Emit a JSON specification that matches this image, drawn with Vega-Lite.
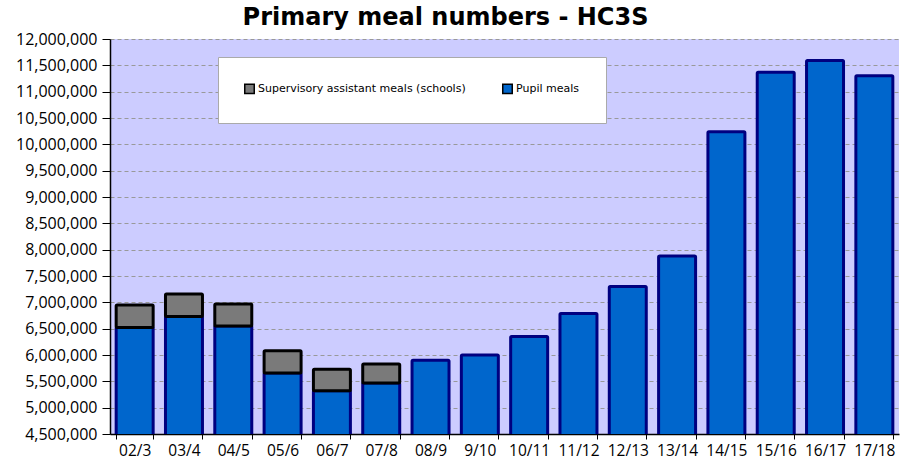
{
  "$schema": "https://vega.github.io/schema/vega-lite/v6.json",
  "width": 789,
  "height": 395,
  "autosize": {"type": "none"},
  "padding": {"left": 110, "top": 39, "right": 2, "bottom": 29},
  "background": "white",
  "title": {
    "text": "Primary meal numbers - HC3S",
    "font": "DejaVu Sans",
    "fontSize": 24,
    "fontWeight": "bold",
    "color": "#000000",
    "anchor": "middle",
    "dx": -59,
    "offset": 1
  },
  "config": {
    "view": {"fill": "#CCCCFF", "stroke": null},
    "axis": {"labelFont": "Open Sans", "labelColor": "#000000", "domainColor": "#000000", "tickColor": "#000000"}
  },
  "data": {
    "values": [
      {"year": "02/3", "series": "Pupil meals", "meals": 6520000},
      {"year": "02/3", "series": "Supervisory assistant meals (schools)", "meals": 430000},
      {"year": "03/4", "series": "Pupil meals", "meals": 6730000},
      {"year": "03/4", "series": "Supervisory assistant meals (schools)", "meals": 430000},
      {"year": "04/5", "series": "Pupil meals", "meals": 6550000},
      {"year": "04/5", "series": "Supervisory assistant meals (schools)", "meals": 420000},
      {"year": "05/6", "series": "Pupil meals", "meals": 5660000},
      {"year": "05/6", "series": "Supervisory assistant meals (schools)", "meals": 420000},
      {"year": "06/7", "series": "Pupil meals", "meals": 5320000},
      {"year": "06/7", "series": "Supervisory assistant meals (schools)", "meals": 410000},
      {"year": "07/8", "series": "Pupil meals", "meals": 5470000},
      {"year": "07/8", "series": "Supervisory assistant meals (schools)", "meals": 360000},
      {"year": "08/9", "series": "Pupil meals", "meals": 5900000},
      {"year": "9/10", "series": "Pupil meals", "meals": 6000000},
      {"year": "10/11", "series": "Pupil meals", "meals": 6350000},
      {"year": "11/12", "series": "Pupil meals", "meals": 6790000},
      {"year": "12/13", "series": "Pupil meals", "meals": 7300000},
      {"year": "13/14", "series": "Pupil meals", "meals": 7880000},
      {"year": "14/15", "series": "Pupil meals", "meals": 10240000},
      {"year": "15/16", "series": "Pupil meals", "meals": 11370000},
      {"year": "16/17", "series": "Pupil meals", "meals": 11590000},
      {"year": "17/18", "series": "Pupil meals", "meals": 11300000}
    ]
  },
  "transform": [
    {"stack": "meals", "groupby": ["year"], "sort": [{"field": "series", "order": "ascending"}], "as": ["m0", "m1"]}
  ],
  "encoding": {
    "x": {
      "field": "year",
      "type": "nominal",
      "sort": null,
      "scale": {"paddingInner": 0.25, "paddingOuter": 0.125},
      "axis": {"title": null, "labelAngle": 0, "labelFontSize": 15.5, "labelPadding": 4, "tickBand": "extent", "tickSize": 5, "domainWidth": 1.5}
    },
    "y": {
      "field": "m1",
      "type": "quantitative",
      "scale": {"domain": [4500000, 12000000], "nice": false, "zero": false},
      "axis": {
        "title": null,
        "format": ",d",
        "tickCount": 15,
        "labelFontSize": 16,
        "labelPadding": 5,
        "tickSize": 8,
        "domainWidth": 1.5,
        "grid": true,
        "gridColor": "#999999",
        "gridDash": [4, 3],
        "gridWidth": 1
      }
    },
    "y2": {"field": "m0"},
    "color": {
      "field": "series",
      "type": "nominal",
      "scale": {"domain": ["Supervisory assistant meals (schools)", "Pupil meals"], "range": ["#7a7a7a", "#0066CC"]},
      "legend": {
        "title": null,
        "orient": "none",
        "legendX": 108,
        "legendY": 18,
        "direction": "horizontal",
        "columns": 2,
        "fillColor": "#FFFFFF",
        "strokeColor": "#AAAAAA",
        "padding": 26,
        "columnPadding": 33,
        "labelFont": "DejaVu Sans",
        "labelFontSize": 11,
        "labelLimit": 300,
        "labelOffset": 3,
        "labelColor": "#000000",
        "symbolType": "square",
        "symbolSize": 90,
        "symbolStrokeColor": "#000000",
        "symbolStrokeWidth": 1.5
      }
    }
  },
  "layer": [
    {
      "transform": [{"filter": "datum.series === 'Pupil meals'"}],
      "mark": {"type": "bar", "clip": true, "stroke": "#000080", "strokeWidth": 3, "cornerRadius": 1}
    },
    {
      "transform": [{"filter": "datum.series !== 'Pupil meals'"}],
      "mark": {"type": "bar", "clip": true, "stroke": "#000000", "strokeWidth": 3, "cornerRadius": 1}
    }
  ]
}
